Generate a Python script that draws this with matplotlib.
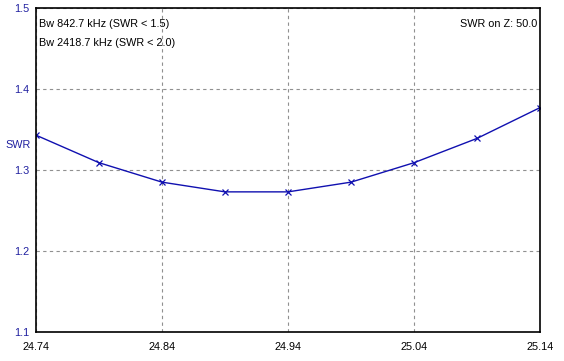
import matplotlib
matplotlib.use("Agg")
import matplotlib.pyplot as plt

freq = [24.74, 24.79, 24.84, 24.89, 24.94, 24.99, 25.04, 25.09, 25.14]
swr = [1.343, 1.309, 1.285, 1.273, 1.273, 1.285, 1.309, 1.339, 1.377]
xticks = [24.74, 24.84, 24.94, 25.04, 25.14]
yticks = [1.1, 1.2, 1.3, 1.4, 1.5]

plt.rcParams['font.family'] = ['Liberation Sans', 'DejaVu Sans']
FS = 7.8
W, H = 564, 361
fig = plt.figure(figsize=(W/100, H/100), dpi=100)
ax = fig.add_axes([36/W, (H-332)/H, 504/W, 324/H])
ax.plot(freq, swr, color='#1010b0', lw=1.0, marker='x', ms=4.5, mew=0.9)
ax.set_xlim(24.74, 25.14)
ax.set_ylim(1.1, 1.5)
ax.set_xticks(xticks)
ax.set_xticklabels([f"{v:.2f}" for v in xticks])
ax.set_yticks(yticks)
ax.set_yticklabels([f"{v:.1f}" for v in yticks], color='#2020a0')
ax.tick_params(length=0, labelsize=FS, pad=5)
ax.tick_params(axis='x', pad=7)
ax.grid(True, color='#909090', ls=(0, (3, 3)), lw=0.8)
for s in ax.spines.values():
    s.set_linewidth(1.2)
    s.set_color('black')
ax.text(5/W, (H-145)/H, "SWR", transform=fig.transFigure, color='#2020a0', fontsize=FS, va='center', ha='left')
ax.text(39/W, (H-24)/H, "Bw 842.7 kHz (SWR < 1.5)", transform=fig.transFigure, fontsize=FS, va='center', ha='left')
ax.text(39/W, (H-43)/H, "Bw 2418.7 kHz (SWR < 2.0)", transform=fig.transFigure, fontsize=FS, va='center', ha='left')
ax.text(537/W, (H-24)/H, "SWR on Z: 50.0", transform=fig.transFigure, fontsize=FS, va='center', ha='right')
fig.savefig("out.png", dpi=100)
